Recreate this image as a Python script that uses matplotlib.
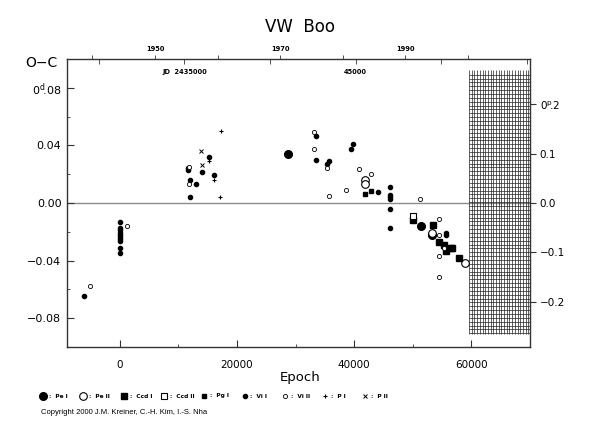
import numpy as np
import matplotlib
matplotlib.use('Agg')
from matplotlib import pyplot as plt
from matplotlib.lines import Line2D

PERIOD = 0.342315
T0 = 2431225.0

# O-C values (epoch, days)
pe1_e = [28770, 51400, 53210]
pe1_oc = [0.0337, -0.0157, -0.0222]

pe2_e = [41770, 41770, 53300, 58920]
pe2_oc = [0.0157, 0.0134, -0.0211, -0.0415]

ccd1_e = [49980, 53380, 54410, 55380, 55670, 56460, 56750, 57830]
ccd1_oc = [-0.0118, -0.0153, -0.0274, -0.0292, -0.0336, -0.0313, -0.0313, -0.0380]

ccd2_e = [49980]
ccd2_oc = [-0.0090]

pg1_e = [41880, 42850]
pg1_oc = [0.0061, 0.0080]

vi1_e = [-6100, 100, 0, 0, 100, 0, 100, 0, 100, 0, 0,
         11680, 11700, 11910, 11910, 12940, 13960, 15160, 16010,
         33500, 33500, 35670, 35380, 39780, 39440, 43980,
         46150, 46150, 46150, 46150, 46150, 46150, 55670, 55670]
vi1_oc = [-0.0645, -0.0130, -0.0175, -0.0190, -0.0205, -0.0220, -0.0235, -0.0250, -0.0265, -0.0310, -0.0350,
          0.0245, 0.0230, 0.0160, 0.0045, 0.0135, 0.0218, 0.0317, 0.0197,
          0.0463, 0.0300, 0.0290, 0.0268, 0.0410, 0.0376, 0.0078,
          0.0110, 0.0059, 0.0040, 0.0029, -0.0043, -0.0172, -0.0205, -0.0225]

vi2_e = [-5080, 1310, 11800, 11750, 33160, 33160, 35380, 35670, 38520,
         40800, 42790, 51230, 54530, 54530, 55250, 54530, 54530]
vi2_oc = [-0.0575, -0.0158, 0.0250, 0.0134, 0.0495, 0.0377, 0.0242, 0.0050, 0.0089,
          0.0238, 0.0202, 0.0031, -0.0109, -0.0222, -0.0311, -0.0368, -0.0515]

p1_e = [17265, 15160, 16120, 17090]
p1_oc = [0.0500, 0.0293, 0.0157, 0.0045]

p2_e = [13846, 14070]
p2_oc = [0.0362, 0.0266]

year_ticks = [1940, 1950, 1960, 1970, 1980, 1990, 2000]
year_labels = [1950, 1970, 1990]
jd_ticks = [2430000, 2435000, 2440000, 2445000, 2450000, 2455000]

series = [
    ('Pe I', pe1_e, pe1_oc, dict(marker='o', ms=5.5, mfc='black', mec='black')),
    ('Pe II', pe2_e, pe2_oc, dict(marker='o', ms=5.5, mfc='white', mec='black', mew=0.8)),
    ('Ccd I', ccd1_e, ccd1_oc, dict(marker='s', ms=4, mfc='black', mec='black')),
    ('Ccd II', ccd2_e, ccd2_oc, dict(marker='s', ms=4, mfc='white', mec='black', mew=0.8)),
    ('Pg I', pg1_e, pg1_oc, dict(marker='s', ms=3, mfc='black', mec='black')),
    ('Vi I', vi1_e, vi1_oc, dict(marker='o', ms=3, mfc='black', mec='black')),
    ('Vi II', vi2_e, vi2_oc, dict(marker='o', ms=3, mfc='white', mec='black', mew=0.6)),
    ('P I', p1_e, p1_oc, dict(marker='+', ms=3.5, mec='black', mew=0.8)),
    ('P II', p2_e, p2_oc, dict(marker='x', ms=2.5, mec='black', mew=0.7)),
]


def year_to_epoch(y):
    jd = 2433282.5 + (y - 1950) * 365.25
    return (jd - T0) / PERIOD


def jd_to_epoch(jd):
    return (jd - T0) / PERIOD


fig = plt.figure(figsize=(5.9, 4.25), dpi=100)
ax = fig.add_axes([67 / 590, 1 - 347 / 425, 463 / 590, 288 / 425])

xmin, xmax = -9000, 70000
ymin, ymax = -0.1, 0.1

ax.axhline(0, color='#8c8c8c', lw=1.0, zorder=1)

# hatched grid region on the right
gx = np.arange(59600, xmax, 460)
gy = np.arange(-0.0905, 0.0910, 0.00268)
ax.vlines(gx, -0.0912, 0.0925, color='#222222', lw=0.5, zorder=2)
ax.hlines(gy, 59600, xmax, color='#222222', lw=0.5, zorder=2)

for name, e, oc, st in series:
    ax.plot(e, oc, ls='none', zorder=3, **st)

ax.set_xlim(xmin, xmax)
ax.set_ylim(ymin, ymax)
ax.set_xticks([0, 20000, 40000, 60000])
ax.set_xticks([10000, 30000, 50000, 70000], minor=True)
ax.set_yticks([-0.08, -0.04, 0.0, 0.04, 0.08])
ax.set_yticks([-0.06, -0.02, 0.02, 0.06], minor=True)
ax.set_yticklabels(['\u22120.08', '\u22120.04', '0.00', '0.04', r'0$^{\rm d}\!$.08'])
ax.tick_params(which='both', direction='in', right=True, top=False, color='#333333')
ax.tick_params(which='major', length=5, width=0.8)
ax.tick_params(which='minor', length=2.5, width=0.6)
ax.tick_params(axis='y', labelsize=8, pad=4)
ax.tick_params(axis='x', labelsize=7.5, pad=9)
for s in ax.spines.values():
    s.set_color('#333333')
    s.set_linewidth(1.0)

# right axis in phase units
ax_r = ax.twinx()
ax_r.set_ylim(ymin / PERIOD, ymax / PERIOD)
ax_r.set_yticks([-0.2, -0.1, 0.0, 0.1, 0.2])
ax_r.set_yticklabels(['\u22120.2', '\u22120.1', '0.0', '0.1', r'0$^{\rm p}\!$.2'])
ax_r.tick_params(direction='out', length=4, width=0.8, labelsize=7.5, pad=3, color='#333333')
for s in ax_r.spines.values():
    s.set_visible(False)

# top axis: years outside, JD ticks inside
ax_t = ax.twiny()
ax_t.set_xlim(xmin, xmax)
ax_t.set_xticks([year_to_epoch(y) for y in year_ticks])
ax_t.set_xticklabels([str(y) if y in year_labels else '' for y in year_ticks])
ax_t.set_xticks([jd_to_epoch(j) for j in jd_ticks], minor=True)
ax_t.tick_params(which='major', direction='out', length=3, width=0.6, labelsize=4.8, pad=2, color='#333333')
ax_t.tick_params(which='minor', direction='in', length=3.5, width=0.6, color='#333333')
for lab in ax_t.get_xticklabels():
    lab.set_fontweight('bold')
for s in ax_t.spines.values():
    s.set_visible(False)

ax.text(jd_to_epoch(2435000), 0.955, 'JD  2435000', transform=ax.get_xaxis_transform(),
        ha='center', va='center', fontsize=4.8, fontweight='bold')
ax.text(jd_to_epoch(2445000), 0.955, '45000', transform=ax.get_xaxis_transform(),
        ha='center', va='center', fontsize=4.8, fontweight='bold')

fig.text(0.5085, 1 - 27 / 425, 'VW  Boo', ha='center', va='center', fontsize=12)
fig.text(41 / 590, 1 - 63 / 425, 'O\u2212C', ha='center', va='center', fontsize=10)
fig.text(300 / 590, 1 - 378 / 425, 'Epoch', ha='center', va='center', fontsize=9.5)

# symbol key along the bottom
for i, (name, e, oc, st) in enumerate(series):
    x0 = (43 + i * 40.3) / 590
    y0 = 1 - 396 / 425
    fig.add_artist(Line2D([x0], [y0], ls='none', transform=fig.transFigure, **st))
    fig.text(x0 + 6 / 590, y0, ':  ' + name, ha='left', va='center', fontsize=4.2, fontweight='bold')

fig.text(41 / 590, 1 - 412 / 425, 'Copyright 2000 J.M. Kreiner, C.-H. Kim, I.-S. Nha',
         ha='left', va='center', fontsize=5.5, family='Liberation Sans')

fig.savefig('out.png', dpi=100)
